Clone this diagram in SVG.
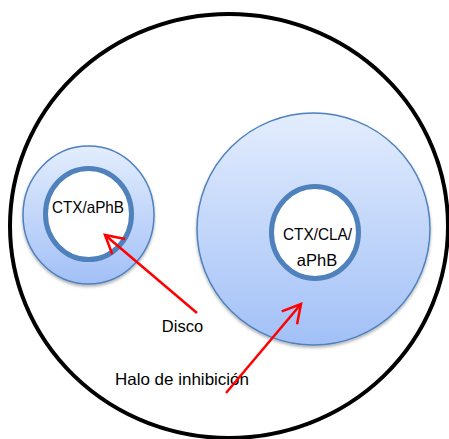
<svg xmlns="http://www.w3.org/2000/svg" width="449" height="439" viewBox="0 0 449 439">
<style>
.halo{fill:url(#g);stroke:#4f81bd;stroke-width:1.5;filter:url(#sh)}
.disc{fill:#fff;stroke:#4f81bd;stroke-width:5}
.t{font-family:"Liberation Sans",Arial,sans-serif;font-size:16.5px;fill:#000;text-anchor:middle}
.arr{stroke:#ff0000;stroke-width:2.5;fill:none;marker-end:url(#ah)}
</style>
<defs>
<linearGradient id="g" x1="0" y1="0" x2="0" y2="1">
<stop offset="0" stop-color="#e3edfd"/>
<stop offset="1" stop-color="#a2c0f7"/>
</linearGradient>
<filter id="sh" x="-10%" y="-10%" width="120%" height="125%">
<feDropShadow dx="0" dy="2" stdDeviation="1.5" flood-color="#000" flood-opacity="0.3"/>
</filter>
<marker id="ah" markerWidth="12" markerHeight="12" refX="10" refY="6" orient="auto" markerUnits="userSpaceOnUse" viewBox="0 0 12 12" overflow="visible">
<path d="M-8,-4 L10,6 L-8,16" fill="none" stroke="#ff0000" stroke-width="2.5"/>
</marker>
</defs>
<rect width="449" height="439" fill="#fff"/>
<g id="plate"><ellipse cx="229" cy="226" rx="219" ry="212" fill="none" stroke="#000" stroke-width="4"/></g>
<g id="node-small">
<ellipse class="halo" cx="88.5" cy="215" rx="65.5" ry="69"/>
<ellipse class="disc" cx="88.5" cy="214" rx="43" ry="45.5"/>
<text class="t" x="88" y="213" textLength="72" lengthAdjust="spacingAndGlyphs">CTX/aPhB</text>
</g>
<g id="node-large">
<ellipse class="halo" cx="313.5" cy="229" rx="116.5" ry="116"/>
<ellipse class="disc" cx="315" cy="232.5" rx="43.5" ry="46"/>
<text class="t" x="317.5" y="240" textLength="69" lengthAdjust="spacingAndGlyphs">CTX/CLA/</text>
<text class="t" x="317" y="266">aPhB</text>
</g>
<g id="labels">
<text class="t" x="182.5" y="332">Disco</text>
<text class="t" x="182" y="385" textLength="134" lengthAdjust="spacingAndGlyphs">Halo de inhibición</text>
</g>
<g id="connectors">
<line class="arr" x1="197" y1="313" x2="105" y2="235"/>
<line class="arr" x1="226" y1="393" x2="301" y2="304"/>
</g>
</svg>
